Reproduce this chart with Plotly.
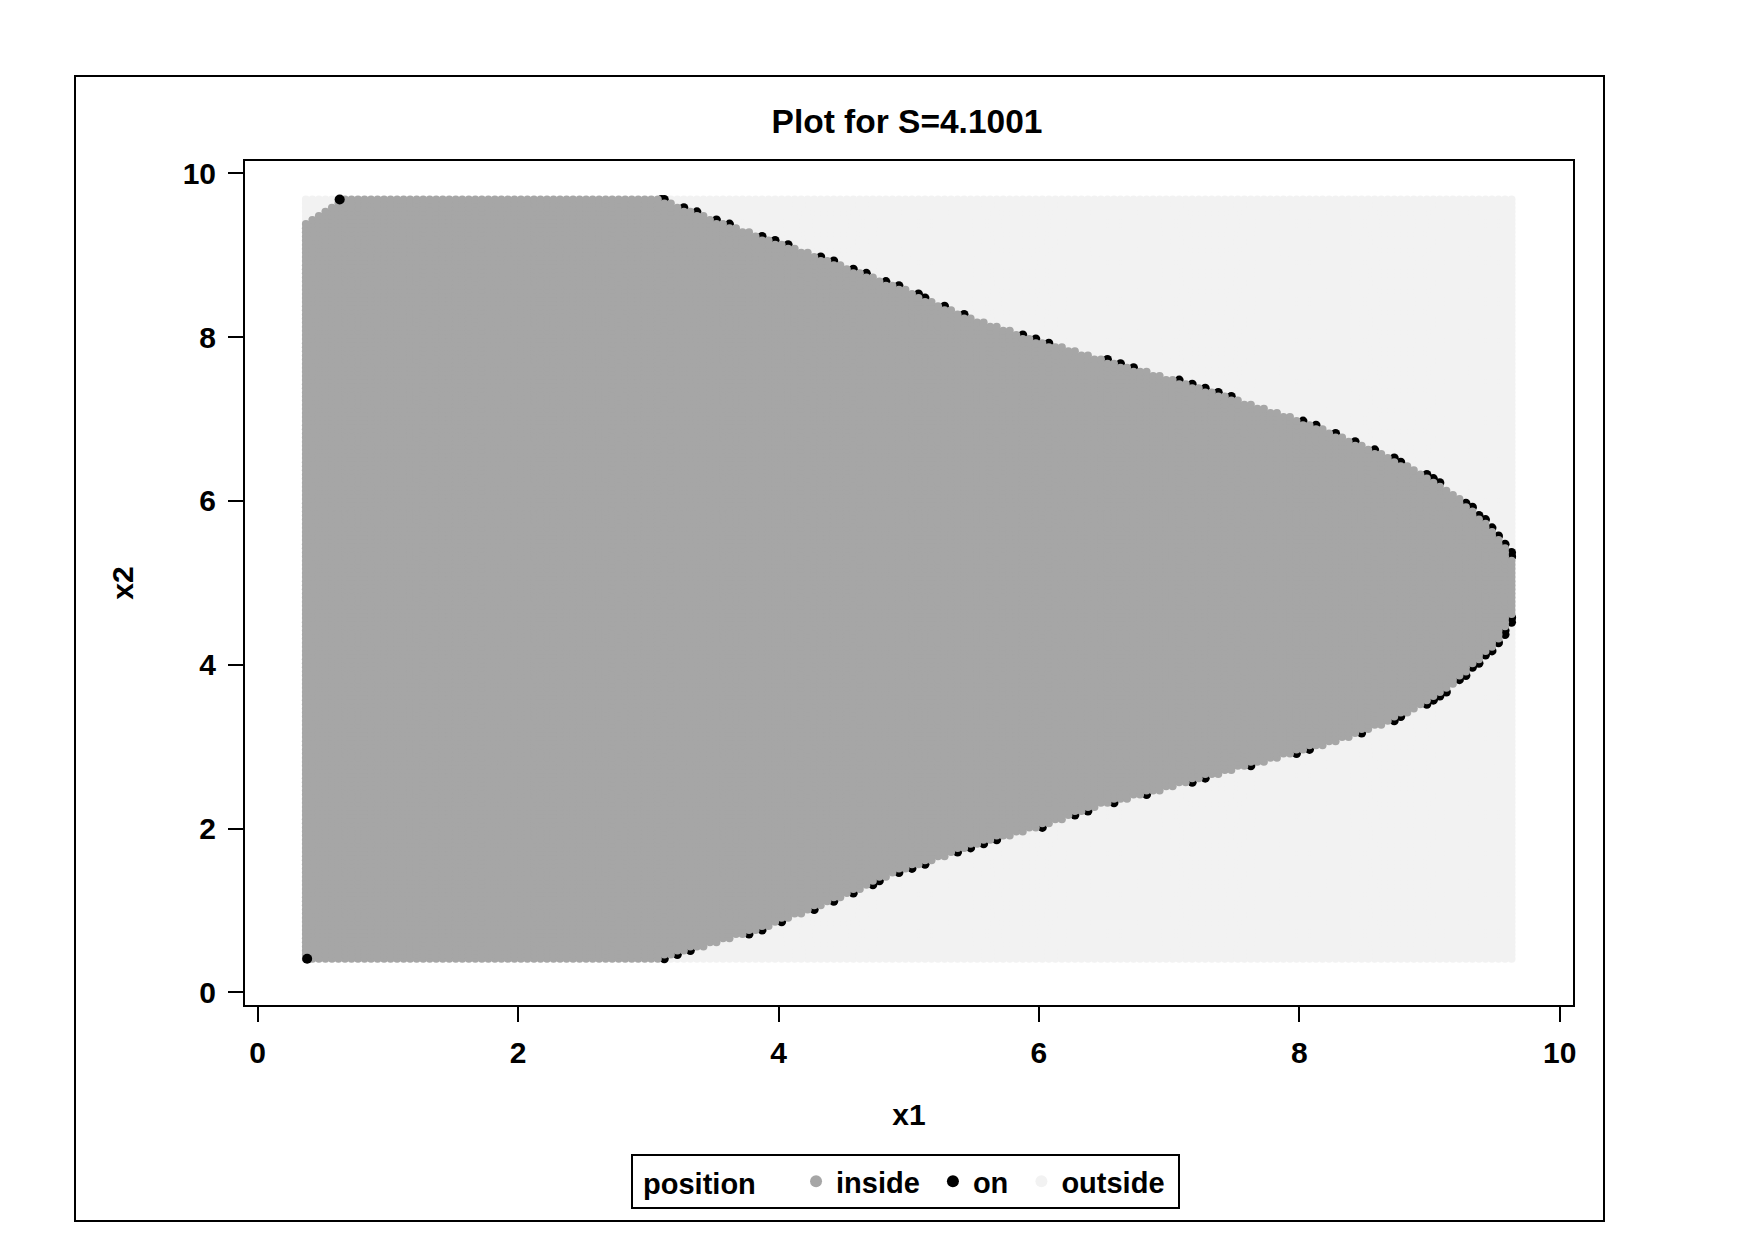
import numpy as np
import plotly.graph_objects as go

# ---- data ----
# right-hand boundary of the "inside" region: for each x2, inside when x1 <= boundary x1
bnd_x2 = [0.42, 0.56, 0.77, 1.04, 1.45, 1.79, 2.02, 2.27, 2.48, 2.71, 2.93, 3.09, 3.30,
          3.57, 3.91, 4.25, 4.58, 5.00, 5.32, 5.55, 5.83, 6.07, 6.33, 6.54, 6.78, 6.99,
          7.17, 7.44, 7.67, 7.95, 8.22, 8.63, 9.04, 9.32, 9.68]
bnd_x1 = [3.10, 3.44, 3.87, 4.30, 4.90, 5.50, 6.02, 6.45, 6.97, 7.48, 8.00, 8.34, 8.69,
          9.03, 9.29, 9.51, 9.63, 9.70, 9.63, 9.53, 9.37, 9.20, 8.95, 8.69, 8.34, 8.00,
          7.65, 7.14, 6.62, 6.02, 5.50, 4.90, 4.21, 3.70, 3.10]
# small outside patch in the top-left corner: inside when x1 >= corner x1
corner_x2 = [9.42, 9.50, 9.56, 9.62, 9.68]
corner_x1 = [0.37, 0.45, 0.55, 0.60, 0.62]
# isolated "on" points visible in the picture
extra_on_x1 = [3.10, 9.63, 9.63]
extra_on_x2 = [9.68, 5.32, 4.58]
corner_on_x1 = [0.38, 0.63]
corner_on_x2 = [0.41, 9.68]

grid_x1 = (0.37, 9.63)
grid_x2 = (0.41, 9.68)
grid_step = 0.05

title_text = "Plot for S=4.1001"
x_ticks = [0, 2, 4, 6, 8, 10]
y_ticks = [0, 2, 4, 6, 8, 10]

# ---- build the grid of evaluated points ----
n1 = int(round((grid_x1[1] - grid_x1[0]) / grid_step)) + 1
n2 = int(round((grid_x2[1] - grid_x2[0]) / grid_step)) + 1
gx = np.linspace(grid_x1[0], grid_x1[1], n1)
gy = np.linspace(grid_x2[0], grid_x2[1], n2)
X, Y = np.meshgrid(gx, gy)
xb = np.interp(Y, bnd_x2, bnd_x1)
xl = np.where(Y >= corner_x2[0], np.interp(Y, corner_x2, corner_x1), -np.inf)
inside = (X <= xb) & (X >= xl)
d = X - xb
on = (~inside) & (d > 0) & (d < grid_step * 0.55)
outside = ~inside & ~on

ix, iy = X[inside], Y[inside]
ox, oy = X[outside], Y[outside]
nx = np.concatenate([X[on], extra_on_x1])
ny = np.concatenate([Y[on], extra_on_x2])

GREY = "#A6A6A6"
LIGHT = "#F2F2F2"
FONT = "Liberation Sans, Arial, sans-serif"
MS = 8
NB = "\u00a0"

fig = go.Figure()
fig.add_trace(go.Scatter(x=ox, y=oy, mode="markers", name="outside" + NB, legendrank=3,
                         marker=dict(color=LIGHT, size=MS, line=dict(width=0))))
fig.add_trace(go.Scatter(x=nx, y=ny, mode="markers", name="on" + NB, legendrank=2,
                         legendgroup="on",
                         marker=dict(color="black", size=MS + 1, line=dict(width=0))))
fig.add_trace(go.Scatter(x=ix, y=iy, mode="markers", name="inside" + NB, legendrank=1,
                         marker=dict(color=GREY, size=MS, line=dict(width=0))))
fig.add_trace(go.Scatter(x=corner_on_x1, y=corner_on_x2, mode="markers", name="on",
                         legendgroup="on", showlegend=False,
                         marker=dict(color="black", size=MS + 2, line=dict(width=0))))

# plot-area geometry in pixels (from reference)
L, R, T, B = 245, 1573, 161, 1005
W, H = 1754, 1240
pw, ph = R - L, B - T

def px_x(p):
    return (p - L) / pw

def px_y(p):
    return (B - p) / ph

axis_common = dict(showline=True, mirror=True, linecolor="black", linewidth=2,
                   ticks="outside", ticklen=15, tickwidth=2, tickcolor="black",
                   showgrid=False, zeroline=False,
                   tickfont=dict(family=FONT, size=30, color="black", weight="bold"))

fig.update_layout(
    width=W, height=H,
    margin=dict(l=L, r=W - R, t=T, b=H - B, pad=0),
    paper_bgcolor="white", plot_bgcolor="white",
    title=dict(text=title_text, x=px_x(907), xanchor="center", xref="paper",
               y=1 - 121 / H, yref="container", yanchor="middle",
               font=dict(family=FONT, size=33.5, color="black", weight="bold")),
    xaxis=dict(range=[-0.0975, 10.102], tickvals=x_ticks,
               title=dict(text="x1", standoff=36,
                          font=dict(family=FONT, size=30, color="black", weight="bold")),
               ticklabelstandoff=5, **axis_common),
    yaxis=dict(range=[-0.155, 10.15], tickvals=y_ticks,
               title=dict(text="x2", standoff=40,
                          font=dict(family=FONT, size=30, color="black", weight="bold")),
               ticklabelstandoff=6, **axis_common),
    legend=dict(orientation="h", x=px_x(631), xanchor="left", y=px_y(1154), yanchor="top",
                bordercolor="black", borderwidth=2, bgcolor="white",
                title=dict(text=NB + "position" + NB * 4, side="left",
                           font=dict(family=FONT, size=29, color="black", weight="bold")),
                font=dict(family=FONT, size=29, color="black", weight="bold"),
                itemsizing="constant", traceorder="normal"),
    shapes=[dict(type="rect", xref="paper", yref="paper",
                 x0=px_x(75), x1=px_x(1604), y0=px_y(1221), y1=px_y(76),
                 line=dict(color="black", width=2), fillcolor="rgba(0,0,0,0)")],
    showlegend=True,
)

fig.write_html("out.html", include_plotlyjs=True,
               config={"displayModeBar": False},
               post_script="document.body.style.margin='0';")
